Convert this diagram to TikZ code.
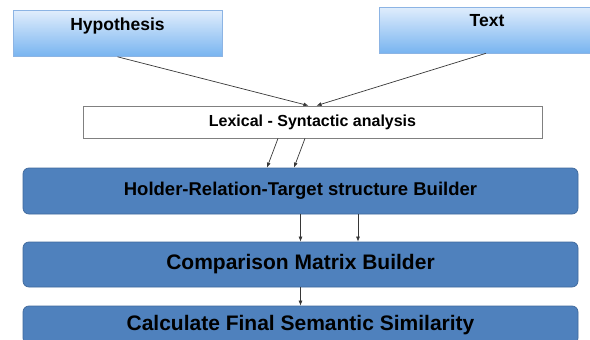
\documentclass[tikz,border=0pt]{standalone}
\usepackage{fontspec}
\setmainfont{Liberation Sans}
\usetikzlibrary{arrows.meta,calc}

\tikzset{every picture/.style={line width=0.75pt}}
\definecolor{stageblue}{RGB}{79,129,189}
\definecolor{stageline}{RGB}{62,104,155}
\definecolor{inputtop}{RGB}{224,237,252}
\definecolor{inputbot}{RGB}{120,180,240}
\definecolor{inputline}{RGB}{140,180,228}
\definecolor{linkgray}{RGB}{55,55,55}

\tikzset{
  inputbox/.style={draw=inputline, line width=0.6pt, top color=inputtop, bottom color=inputbot, minimum height=46pt, inner sep=0pt},
  inputtext/.style={font=\fontsize{17.5}{20}\selectfont\bfseries, inner sep=0pt},
  stagebox/.style={draw=stageline, fill=stageblue, rounded corners=6pt, minimum width=555pt, inner sep=0pt},
  link/.style={draw=linkgray, line width=0.7pt, -{Latex[length=5pt,width=4pt]}},
}

\begin{document}
\begin{tikzpicture}[x=1pt,y=1pt,yscale=-1,xscale=1]
	\clip (0,0) rectangle (590,340);

	% Input boxes
	\node[inputbox, minimum width=209pt] (hyp) at (117.5,33.5) {};
	\node[inputbox, minimum width=214pt] (txt) at (486,30) {};
	% Text Node
	\node[inputtext] (hyplabel) at (117.5,26) {Hypothesis};
	% Text Node
	\node[inputtext] (txtlabel) at (487,21) {Text};

	% Analysis box
	\node[draw={rgb, 255:red, 128; green, 128; blue, 128}, fill=white, minimum width=459pt, minimum height=32pt, inner sep=0pt,
	      font=\fontsize{16}{18}\selectfont\bfseries] (lex) at (312.5,122) {Lexical - Syntactic analysis};

	% Processing stages
	\node[stagebox, minimum height=46pt, font=\fontsize{18.5}{21}\selectfont\bfseries] (hrt) at (300.5,191) {Holder-Relation-Target structure Builder};
	\node[stagebox, minimum height=45pt, font=\fontsize{21}{24}\selectfont\bfseries] (cmb) at (300.5,264.5) {Comparison Matrix Builder};
	\node[stagebox, minimum height=38pt, font=\fontsize{21}{24}\selectfont\bfseries] (css) at (300.5,325) {Calculate Final Semantic Similarity};

	% Straight Lines
	\draw[link] (hyp.south) -- ($(lex.north)+(-4,0)$);
	\draw[link] (txt.south) -- ($(lex.north)+(4,0)$);
	\draw[link] ($(lex.south)+(-34.5,0)$) -- ($(hrt.north)+(-33.5,0)$);
	\draw[link] ($(lex.south)+(-7.5,0)$) -- ($(hrt.north)+(-6.5,0)$);
	\draw[link] (hrt.south) -- (cmb.north);
	\draw[link] ($(hrt.south)+(57.5,0)$) -- ($(cmb.north)+(57.5,0)$);
	\draw[link] (cmb.south) -- (css.north);

\end{tikzpicture}
\end{document}
